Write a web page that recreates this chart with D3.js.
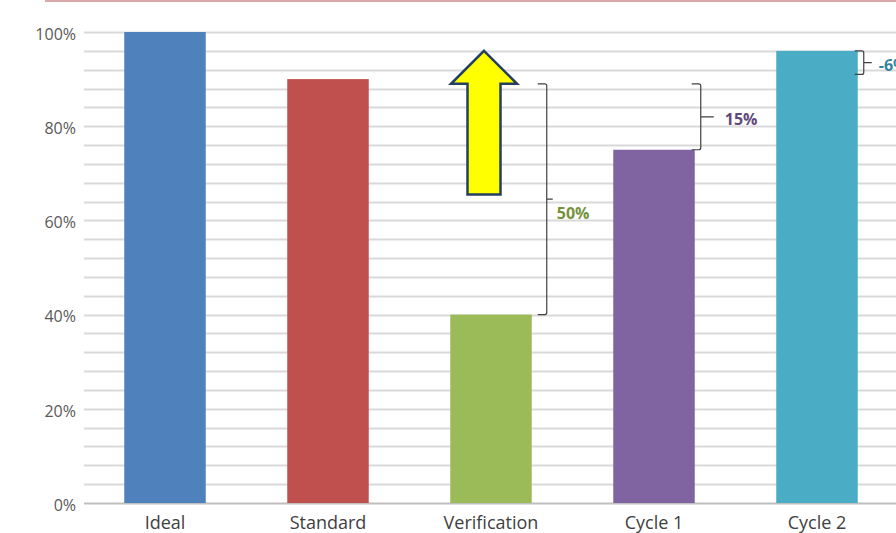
<!DOCTYPE html>
<html>
<head>
<meta charset="utf-8">
<script src="https://cdn.jsdelivr.net/npm/d3@7/dist/d3.min.js"></script>
<style>
  html, body { margin: 0; padding: 0; background: #fff; overflow: hidden; }
  svg { display: block; font-family: "Open Sans", "Liberation Sans", sans-serif; }
</style>
</head>
<body>
<svg id="chart" width="896" height="533"></svg>
<script>
// Data
var categories = ['Ideal', 'Standard', 'Verification', 'Cycle 1', 'Cycle 2']
var values = [100, 90, 40, 75, 96]
var colors = ['#4f81bd', '#c0504d', '#9bbb59', '#8064a2', '#4bacc6']
var tickLabels = [0, 20, 40, 60, 80, 100]
var gridStep = 4
// brackets: category, low, high, label
var bracketCats = ['Verification', 'Cycle 1', 'Cycle 2']
var bracketLow = [40, 75, 91]
var bracketHigh = [89, 89, 96]
var bracketLabels = ['50%', '15%', '-6%']
var bracketColors = ['#76923c', '#5f497a', '#31849b']
// arrow over the Verification bar (tip, head base, tail in %)
var arrowCat = 'Verification'
var arrowTip = 96, arrowHead = 89, arrowTail = 65.5

//
// Layout
var svg = d3.select('#chart')
var x = d3.scaleBand().domain(categories).range([83.5, 898.5]).paddingInner(0.5).paddingOuter(0.25)
var y = d3.scaleLinear().domain([0, 100]).range([503, 32])

// top border fragment
svg.append('line')
  .attr('x1', 45).attr('x2', 896).attr('y1', 1).attr('y2', 1)
  .attr('stroke', '#d8a9a8').attr('stroke-width', 2)

// gridlines
var grid = d3.range(0, 100 + gridStep, gridStep)
svg.append('g').selectAll('line').data(grid).join('line')
  .attr('x1', 84).attr('x2', 896)
  .attr('y1', function(d) { return Math.round(y(d)) + 0.5 })
  .attr('y2', function(d) { return Math.round(y(d)) + 0.5 })
  .attr('stroke', function(d) { return d === 0 ? '#bfbfbf' : '#d9d9d9' })
  .attr('stroke-width', 2)

// y axis labels
var yAxis = d3.axisLeft(y).tickValues(tickLabels).tickSize(0).tickPadding(0)
  .tickFormat(function(d) { return d + '%' })
var ya = svg.append('g').attr('transform', 'translate(76,0)').call(yAxis)
ya.select('.domain').remove()
ya.selectAll('text').attr('fill', '#595959').attr('dy', '0.45em').style('font-size', '16px')
  .style('font-family', '"Open Sans", "Liberation Sans", sans-serif')

// bars
svg.append('g').selectAll('rect').data(values).join('rect')
  .attr('x', function(d, i) { return x(categories[i]) })
  .attr('width', x.bandwidth())
  .attr('y', function(d) { return y(d) })
  .attr('height', function(d) { return y(0) - y(d) })
  .attr('fill', function(d, i) { return colors[i] })

// x axis labels
var xAxis = d3.axisBottom(x).tickSize(0).tickPadding(0)
var xa = svg.append('g').attr('transform', 'translate(0,516)').call(xAxis)
xa.select('.domain').remove()
xa.selectAll('text').attr('fill', '#404040').style('font-size', '18px')
  .style('font-family', '"Open Sans", "Liberation Sans", sans-serif')

// brackets
var bracketOffset = [15, 6, 6]
bracketCats.forEach(function(c, i) {
  var bx = x(c) + x.bandwidth() + bracketOffset[i]
  var y0 = y(bracketHigh[i]), y1 = y(bracketLow[i])
  var ym = (y0 + y1) / 2
  var tip = 9
  var p = 'M' + (bx - tip) + ',' + y0 + ' L' + (bx - 2) + ',' + y0 +
    ' Q' + bx + ',' + y0 + ' ' + bx + ',' + (y0 + 2) +
    ' L' + bx + ',' + (y1 - 2) +
    ' Q' + bx + ',' + y1 + ' ' + (bx - 2) + ',' + y1 +
    ' L' + (bx - tip) + ',' + y1 +
    ' M' + bx + ',' + ym + ' L' + (bx + (i === 0 ? 6 : (i === 1 ? 13 : 8))) + ',' + ym
  svg.append('path').attr('d', p).attr('fill', 'none')
    .attr('stroke', '#404040').attr('stroke-width', 1.2)
  svg.append('text')
    .attr('x', bx + (i === 0 ? 10 : (i === 1 ? 24 : 15)))
    .attr('y', ym + (i === 0 ? 20 : 8))
    .attr('fill', bracketColors[i])
    .style('font-size', '16px').style('font-weight', 'bold')
    .text(bracketLabels[i])
})

// arrow
var ac = x(arrowCat) + x.bandwidth() / 2 - 7
var hw = 33, sw = 16.5
var pts = [
  [ac, y(arrowTip)],
  [ac + hw, y(arrowHead)],
  [ac + sw, y(arrowHead)],
  [ac + sw, y(arrowTail)],
  [ac - sw, y(arrowTail)],
  [ac - sw, y(arrowHead)],
  [ac - hw, y(arrowHead)]
]
svg.append('path')
  .attr('d', d3.line()(pts) + 'Z')
  .attr('fill', '#ffff00').attr('stroke', '#243f60').attr('stroke-width', 2.5)
  .attr('stroke-linejoin', 'miter')
</script>
</body>
</html>
